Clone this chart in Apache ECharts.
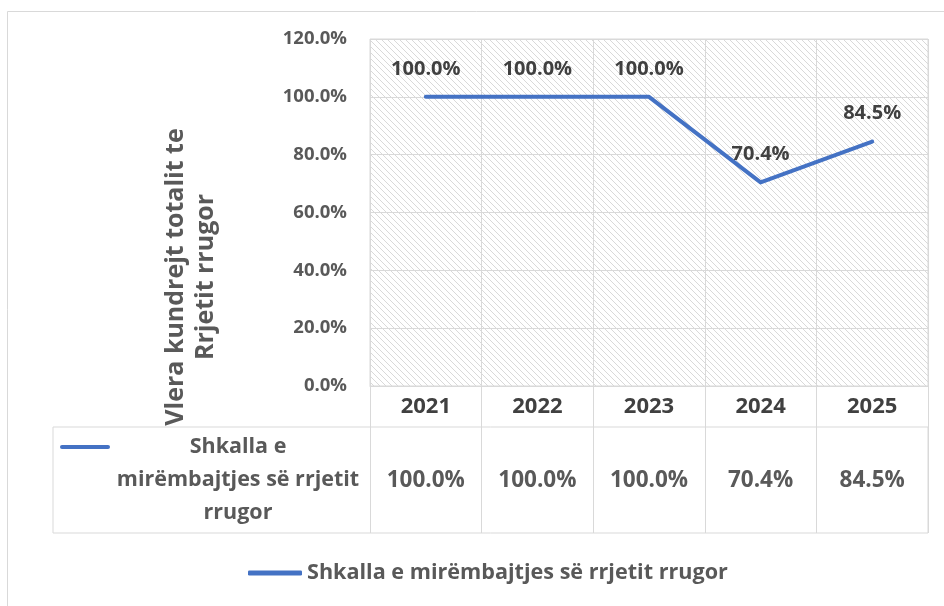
<!DOCTYPE html>
<html>
<head>
<meta charset="utf-8">
<script src="https://cdn.jsdelivr.net/npm/echarts@6/dist/echarts.min.js"></script>
<style>
  html, body { margin: 0; padding: 0; background: #fff; }
  #chart { width: 944px; height: 606px; }
</style>
</head>
<body>
<div id="chart"></div>
<script>
// Road network maintenance share, per year
const years = ['2021', '2022', '2023', '2024', '2025'];
const maintenanceShare = [1.0, 1.0, 1.0, 0.704, 0.845];
const seriesName = 'Shkalla e mirëmbajtjes së rrjetit rrugor';
const tableSeriesName = 'Shkalla e\nmirëmbajtjes së rrjetit\nrrugor';
const axisTitle = 'Vlera kundrejt totalit te\nRrjetit rrugor';

const FONT = '"Open Sans", "DejaVu Sans", sans-serif';
const GRID = '#d9d9d9';
const TEXT = '#595959';
const LINE = '#4472C4';

const pct = v => (v * 100).toFixed(1) + '%';

// light diagonal hatch used as the plot-area fill
function hatch() {
  const c = document.createElement('canvas');
  const n = 6;
  c.width = n; c.height = n;
  const g = c.getContext('2d');
  g.fillStyle = '#ffffff';
  g.fillRect(0, 0, n, n);
  g.fillStyle = '#d9d9d9';
  for (let i = 0; i < n; i++) g.fillRect(i, i, 1, 1);
  return c;
}

const chart = echarts.init(document.getElementById('chart'), null, { renderer: 'canvas' });

chart.setOption({
  backgroundColor: '#ffffff',
  animation: false,
  grid: [
    { left: 370, right: 16, top: 39, height: 347, show: true,
      backgroundColor: { image: hatch(), repeat: 'repeat' },
      borderColor: GRID, borderWidth: 1 },
    // data table box below the axis
    { left: 53, right: 16, top: 427, height: 106, show: true,
      backgroundColor: 'transparent', borderColor: GRID, borderWidth: 1 }
  ],
  xAxis: [
    { type: 'category', gridIndex: 0, data: years, boundaryGap: true,
      axisLine: { show: true, lineStyle: { color: GRID, width: 1 } },
      axisTick: { show: true, length: 147, lineStyle: { color: GRID, width: 1 } },
      splitLine: { show: true, lineStyle: { color: GRID, width: 1 } },
      axisLabel: { margin: 10, fontFamily: FONT, fontWeight: 'bold', fontSize: 22, color: '#404040' } },
    // value row of the data table
    { type: 'category', gridIndex: 0, data: years, position: 'bottom', offset: 83,
      axisLine: { show: false }, axisTick: { show: false }, splitLine: { show: false },
      axisLabel: { margin: 0, fontFamily: FONT, fontWeight: 'bold', fontSize: 22.5, color: TEXT,
        formatter: (v, i) => pct(maintenanceShare[i]) } },
    { type: 'value', gridIndex: 1, show: false }
  ],
  yAxis: [
    { type: 'value', gridIndex: 0, min: 0, max: 1.2, interval: 0.2,
      axisLine: { show: false }, axisTick: { show: false },
      splitLine: { show: true, lineStyle: { color: GRID, width: 1 } },
      axisLabel: { margin: 23, fontFamily: FONT, fontWeight: 'bold', fontSize: 18.5, color: TEXT,
        formatter: v => pct(v) } },
    { type: 'value', gridIndex: 1, show: false }
  ],
  legend: {
    left: 243, top: 557,
    itemWidth: 54, itemHeight: 5, icon: 'roundRect',
    textStyle: { fontFamily: FONT, fontWeight: 'bold', fontSize: 21.6, color: TEXT },
    data: [seriesName]
  },
  series: [{
    name: seriesName,
    type: 'line',
    xAxisIndex: 0, yAxisIndex: 0,
    data: maintenanceShare,
    symbol: 'circle', symbolSize: 0, showSymbol: true,
    lineStyle: { color: LINE, width: 4, join: 'round', cap: 'round' },
    itemStyle: { color: LINE },
    label: { show: true, position: 'top', distance: 18,
      fontFamily: FONT, fontWeight: 'bold', fontSize: 20, color: '#404040',
      formatter: p => pct(p.value) },
    labelLayout: { hideOverlap: false },
    z: 5
  }],
  graphic: [
    // outer chart frame
    { type: 'rect', silent: true, z: -10,
      shape: { x: 7.5, y: 11.5, width: 960, height: 620 },
      style: { fill: 'none', stroke: GRID, lineWidth: 1 } },
    // legend key inside the data table
    { type: 'line', silent: true,
      shape: { x1: 62, y1: 447, x2: 108, y2: 447 },
      style: { stroke: LINE, lineWidth: 4, lineCap: 'round' } },
    { type: 'text', silent: true, x: 238, y: 480,
      style: { text: tableSeriesName, fontFamily: FONT, fontWeight: 'bold', fontSize: 21.5,
        fill: TEXT, align: 'center', verticalAlign: 'middle', lineHeight: 33 } },
    // value axis title
    { type: 'text', silent: true, x: 191, y: 277, rotation: Math.PI / 2,
      style: { text: axisTitle, fontFamily: FONT, fontWeight: 'bold', fontSize: 25,
        fill: TEXT, align: 'center', verticalAlign: 'middle', lineHeight: 30 } }
  ]
});
</script>
</body>
</html>
